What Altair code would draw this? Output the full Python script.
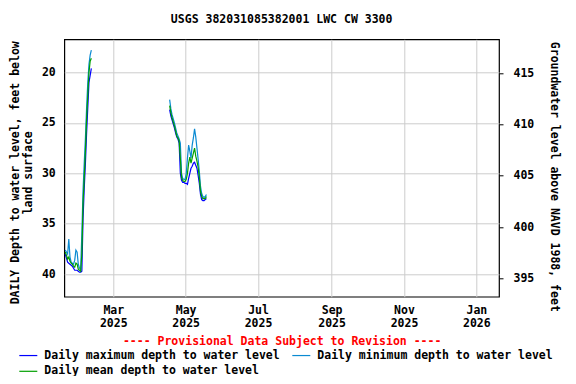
import altair as alt
import pandas as pd

# ---- data (depth to water level, feet below land surface) ----
seg1_start = "2025-01-19"
seg1_max = [38.0, 38.4, 38.8, 38.9, 39.0, 39.1, 39.2, 39.4, 39.6, 39.6, 39.6, 39.7,
            39.8, 39.8, 39.7, 34.5, 31.5, 29.0, 26.0, 23.5, 21.0, 20.3, 19.6]
seg1_min = [37.6, 37.8, 38.0, 36.5, 38.3, 38.8, 38.9, 39.0, 38.6, 37.6, 37.8, 39.0,
            39.4, 39.5, 36.0, 31.7, 29.0, 26.5, 23.5, 21.0, 19.2, 18.3, 17.8]
seg1_mean = [37.8, 38.1, 38.5, 38.3, 38.7, 38.9, 39.0, 39.2, 39.3, 38.9, 39.0, 39.5,
             39.6, 39.7, 38.0, 33.0, 30.5, 27.8, 24.6, 22.3, 20.0, 18.9, 18.6]

seg2_start = "2025-04-17"
seg2_max = [23.7, 24.3, 24.7, 25.1, 25.5, 26.0, 26.4, 26.6, 27.0, 30.0, 30.7, 30.9,
            30.9, 31.0, 31.0, 31.1, 30.5, 30.0, 29.5, 29.3, 29.0, 28.9, 29.2, 29.5,
            30.2, 31.0, 32.1, 32.6, 32.7, 32.7, 32.6, 32.5]
seg2_min = [22.7, 23.6, 24.2, 24.6, 25.0, 25.5, 26.0, 26.3, 26.6, 27.0, 30.0, 30.5,
            30.6, 30.6, 30.0, 28.5, 27.2, 27.8, 28.5, 27.2, 26.5, 25.6, 26.4, 27.5,
            28.6, 29.8, 31.3, 32.0, 32.3, 32.4, 32.3, 32.1]
seg2_mean = [23.3, 24.0, 24.5, 24.9, 25.3, 25.8, 26.3, 26.5, 26.8, 28.5, 30.4, 30.7,
             30.8, 30.8, 30.6, 30.0, 29.0, 28.4, 29.0, 28.5, 28.0, 27.5, 28.3, 28.8,
             29.4, 30.4, 31.8, 32.3, 32.5, 32.5, 32.5, 32.3]

MAX_NAME = "Daily maximum depth to water level"
MIN_NAME = "Daily minimum depth to water level"
MEAN_NAME = "Daily mean depth to water level"
# legend fills column by column: max, mean in column 1; min in column 2
legend_order = [MAX_NAME, MEAN_NAME, MIN_NAME]
legend_colors = ["#0000ff", "#00a000", "#0a8ad2"]
draw_order = [MAX_NAME, MIN_NAME, MEAN_NAME]

left_ticks = [20, 25, 30, 35, 40]
right_ticks = [395, 400, 405, 410, 415]
depth_domain = [16.73, 42.22]
elev_domain = [393.2, 418.32]

rows = []
for seg_id, (start, mx, mn, me) in enumerate(
        [(seg1_start, seg1_max, seg1_min, seg1_mean),
         (seg2_start, seg2_max, seg2_min, seg2_mean)]):
    dates = pd.date_range(start, periods=len(mx), freq="D")
    for name, vals in zip([MAX_NAME, MIN_NAME, MEAN_NAME], [mx, mn, me]):
        for d, v in zip(dates, vals):
            rows.append({"date": d.strftime("%Y-%m-%dT12:00:00"), "depth": v,
                         "series": name, "segment": seg_id,
                         "k": draw_order.index(name)})
df = pd.DataFrame(rows)

FONT = "DejaVu Sans Mono"
FS = 11.5

x_ticks = [alt.DateTime(year=2025, month=m, date=1) for m in [3, 5, 7, 9, 11]] + \
          [alt.DateTime(year=2026, month=1, date=1)]

x_enc = alt.X("date:T",
              scale=alt.Scale(domain=[alt.DateTime(year=2025, month=1, date=18, hours=17),
                                      alt.DateTime(year=2026, month=1, date=20, hours=2)]),
              axis=alt.Axis(values=x_ticks, ticks=False, domain=False, grid=True,
                            labelExpr="[timeFormat(datum.value, '%b'), timeFormat(datum.value, '%Y')]",
                            labelPadding=8, labelLineHeight=13,
                            title="---- Provisional Data Subject to Revision ----",
                            titleColor="red", titlePadding=6))

y_enc = alt.Y("depth:Q",
              scale=alt.Scale(domain=depth_domain, reverse=True, nice=False, zero=False),
              axis=alt.Axis(values=left_ticks, ticks=False, domain=False, grid=True,
                            labelPadding=9,
                            title=["DAILY Depth to water level, feet below", "land surface"],
                            titleLineHeight=13, titlePadding=8, titleY=133))

color_enc = alt.Color("series:N",
                      sort=legend_order,
                      scale=alt.Scale(domain=legend_order, range=legend_colors),
                      legend=alt.Legend(orient="none", legendX=-46, legendY=306,
                                        columns=2, title=None, symbolType="stroke",
                                        symbolSize=324, symbolStrokeWidth=1.2,
                                        columnPadding=9, rowPadding=0, labelOffset=6,
                                        labelFont=FONT, labelFontSize=FS,
                                        labelFontWeight="bold", labelLimit=400))

lines = alt.layer(*[
    alt.Chart(df).transform_filter(alt.datum.k == k)
    .mark_line(strokeWidth=1.2)
    .encode(x=x_enc, y=y_enc, color=color_enc, detail="segment:N")
    for k in range(len(draw_order))
])

right = alt.Chart(pd.DataFrame({"elev": elev_domain})).mark_point(opacity=0).encode(
    y=alt.Y("elev:Q",
            scale=alt.Scale(domain=elev_domain, nice=False, zero=False),
            axis=alt.Axis(orient="right", values=right_ticks, grid=False, domain=False,
                          ticks=True, tickSize=4, tickColor="black", labelPadding=10,
                          title="Groundwater level above NAVD 1988, feet",
                          titlePadding=15, titleY=137))
)

chart = alt.layer(lines, right).resolve_scale(y="independent").properties(
    width=434.7, height=257.4,
    autosize=alt.AutoSizeParams(type="none"),
    padding={"left": 56.3, "top": 31.3, "right": 69, "bottom": 79.3},
    title=alt.TitleParams("USGS 382031085382001 LWC CW 3300", font=FONT, fontSize=FS,
                          fontWeight="bold", anchor="middle", frame="group", offset=11,
                          color="black"),
).configure_view(stroke="black", strokeWidth=1.2).configure_axis(
    labelFont=FONT, labelFontSize=FS, labelFontWeight="bold", labelColor="black",
    titleFont=FONT, titleFontSize=FS, titleFontWeight="bold", titleColor="black",
    gridColor="#cccccc", gridWidth=1
)

chart.save("out.html", embed_options={"renderer": "svg", "actions": False})
